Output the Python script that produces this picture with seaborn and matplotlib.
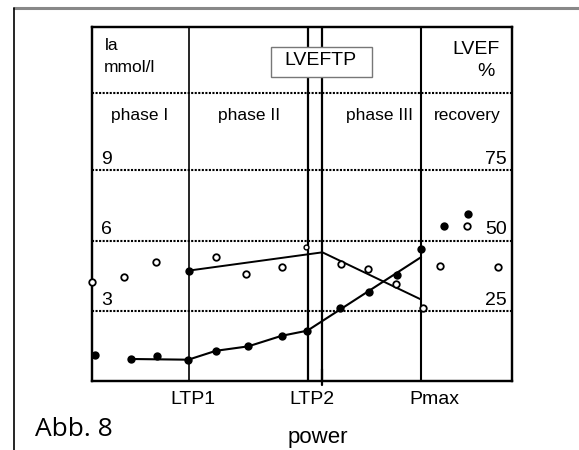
import matplotlib
matplotlib.use("Agg")
import matplotlib.pyplot as plt
import seaborn as sns
import pandas as pd
from matplotlib.lines import Line2D
from matplotlib.patches import Rectangle

# ---------------- data ----------------
# power axis in arbitrary stage units (0..14)
la_x = [0.1, 1.3, 2.16, 3.21, 4.13, 5.21, 6.32, 7.18, 8.27, 9.23, 10.17, 10.97, 11.74, 12.54]
la_val = [1.09, 0.94, 1.05, 0.91, 1.29, 1.48, 1.93, 2.15, 3.10, 3.81, 4.51, 5.63, 6.64, 7.15]

la_fit_x = [1.3, 3.21, 4.13, 5.21, 6.32, 7.18, 10.97]
la_fit = [0.94, 0.91, 1.29, 1.48, 1.93, 2.15, 5.29]

lvef_x = [0.0, 1.08, 2.12, 4.13, 5.12, 6.34, 8.3, 9.2, 10.14, 11.04, 11.61, 12.49, 13.52]
lvef_val = [35.1, 37.0, 42.5, 44.1, 38.2, 40.5, 41.7, 39.8, 34.6, 26.0, 41.0, 55.0, 40.7]
lvef_small_x = [7.13]
lvef_small = [47.7]

lvef_fit_x = [3.23, 7.68, 10.97]
lvef_fit = [39.3, 45.8, 29.0]

threshold_x = [3.23, 7.2, 7.68, 10.97]
tick_pos = [3.37, 7.32, 11.42]
tick_labels = ["LTP1", "LTP2", "Pmax"]

la_grid = [3, 6, 9]
lvef_grid = ["25", "50", "75"]
header_y = 12.31

phase_labels = ["phase I", "phase II", "phase III", "recovery"]
phase_x = [1.6, 5.23, 10.7, 12.5]
phase_ha = ["center", "center", "right", "center"]

# ---------------- figure ----------------
sns.set_theme(style="white")
plt.rcParams['font.family'] = ['Liberation Sans', 'DejaVu Sans']
plt.rcParams['text.color'] = 'black'
plt.rcParams['xtick.color'] = 'black'
plt.rcParams['xtick.labelcolor'] = 'black'

fig = plt.figure(figsize=(5.79, 4.5), dpi=100)
ax = fig.add_axes([92 / 579, 69 / 450, 420 / 579, 354 / 450])
ymax = 15.12
ax.set_xlim(0, 14)
ax.set_ylim(0, ymax)
ax2 = ax.twinx()
ax2.set_ylim(0, ymax * 25 / 3)

for a in (ax, ax2):
    for s in a.spines.values():
        s.set_linewidth(1.6)
        s.set_color("black")
    a.set_yticks([])
ax2.set_xticks([])

ax.set_xticks(tick_pos)
ax.set_xticklabels(tick_labels, fontsize=14, color="black")
ax.tick_params(axis="x", length=0, pad=7, colors="black")

# dotted horizontal grid lines
for g in la_grid + [header_y]:
    ax.axhline(g, color="black", lw=1.5, ls=(0, (1, 0.7)), zorder=1)

# vertical threshold lines
lws = [1.2, 1.6, 1.6, 1.5]
for xv, lw in zip(threshold_x, lws):
    ax.axvline(xv, color="black", lw=lw, zorder=1)
ax.plot([threshold_x[2]] * 2, [-0.15, 0.5], color="black", lw=1.6, clip_on=False)

# lactate
sns.lineplot(x=la_fit_x, y=la_fit, ax=ax, color="black", lw=1.5, sort=False,
             estimator=None, zorder=3)
sns.scatterplot(x=la_x, y=la_val, ax=ax, color="black", s=36, linewidth=0, zorder=4)

# LVEF
sns.lineplot(x=lvef_fit_x, y=lvef_fit, ax=ax2, color="black", lw=1.4, sort=False,
             estimator=None, zorder=3)
sns.scatterplot(x=lvef_fit_x[:1], y=lvef_fit[:1], ax=ax2, color="black", s=36,
                linewidth=0, zorder=4)
sns.scatterplot(x=lvef_x, y=lvef_val, ax=ax2, facecolor="white", edgecolor="black",
                s=22, linewidth=1.3, zorder=4)
sns.scatterplot(x=lvef_small_x, y=lvef_small, ax=ax2, facecolor="white",
                edgecolor="black", s=12, linewidth=1.0, zorder=4)
for a in (ax, ax2):
    for c in a.collections:
        c.set_clip_on(False)
    if a.get_legend():
        a.get_legend().remove()

# texts
ax.text(0.43, 14.31, "la", fontsize=12.5, ha="left", va="center")
ax.text(0.40, 13.41, "mmol/l", fontsize=12.5, ha="left", va="center")
ax.text(13.6, 14.14, "LVEF", fontsize=14, ha="right", va="center")
ax.text(13.13, 13.2, "%", fontsize=14, ha="center", va="center")

ax2.add_patch(Rectangle((5.97, 13.0 * 25 / 3), 3.36, 1.28 * 25 / 3, facecolor="white",
                        edgecolor="#777777", lw=1.0, zorder=5))
ax2.text(7.63, 13.67 * 25 / 3, "LVEFTP", fontsize=14, ha="center", va="center", zorder=6)

for lab, xv, ha in zip(phase_labels, phase_x, phase_ha):
    ax.text(xv, 11.32, lab, fontsize=12.5, ha=ha, va="center")

for g, lab in zip(la_grid, lvef_grid):
    ax.text(0.3, g + 0.45, str(g), fontsize=14, ha="left", va="center")
    ax.text(13.82, g + 0.45, lab, fontsize=14, ha="right", va="center")

fig.text(318 / 579, 1 - 443 / 450, "power", fontsize=16, ha="center", va="baseline")
fig.text(35 / 579, 1 - 436 / 450, "Abb. 8", fontsize=19, ha="left", va="baseline",
         family=["Open Sans", "DejaVu Sans"], weight="medium")

# outer frame
fig.add_artist(Line2D([14 / 579, 1], [1 - 8 / 450] * 2, color="#888888", lw=2.2))
fig.add_artist(Line2D([14 / 579] * 2, [1 - 8 / 450, 0], color="black", lw=1.2))

fig.savefig("out.png", dpi=100)
